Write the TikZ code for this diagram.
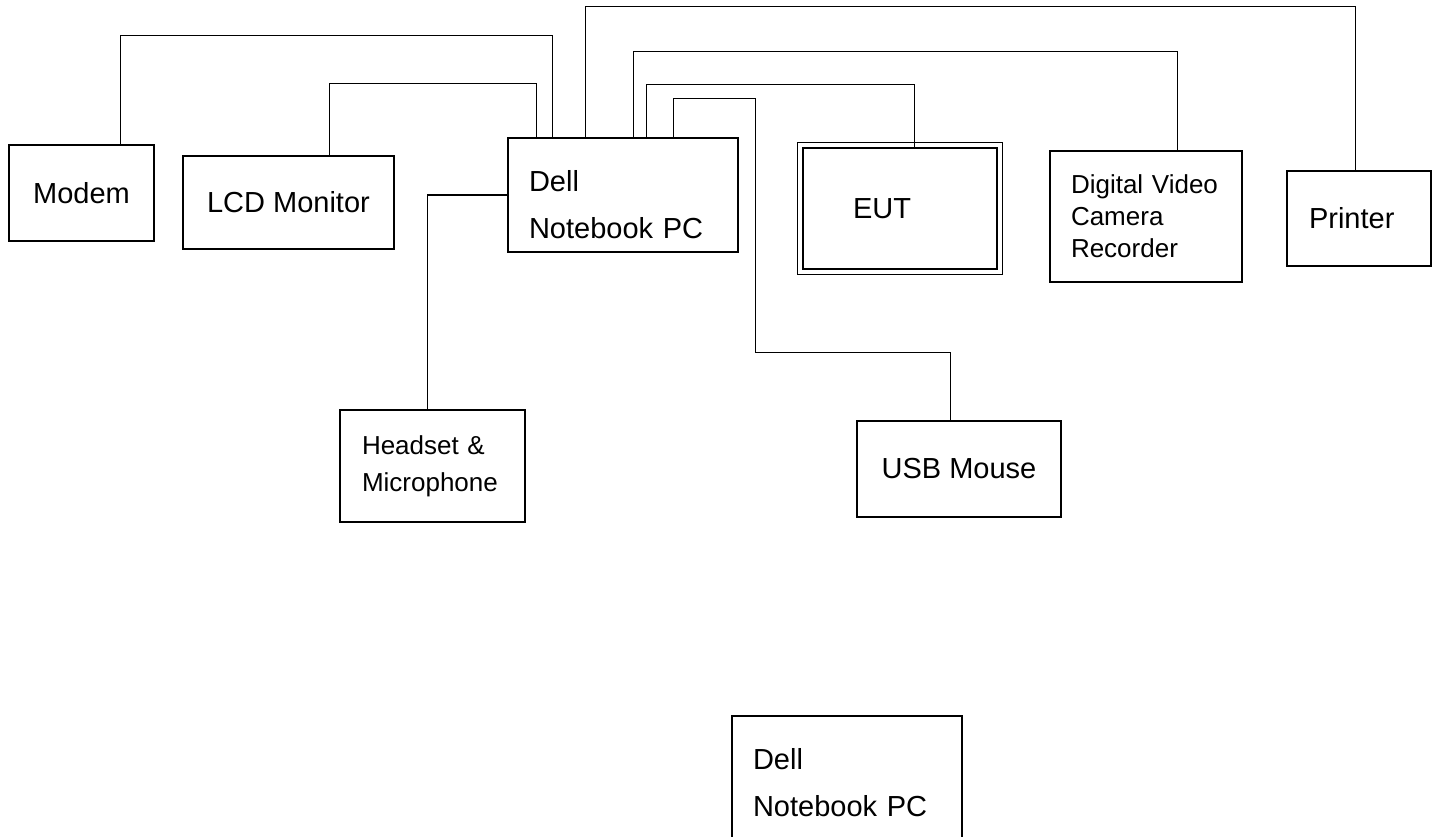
\documentclass[tikz,border=0pt]{standalone}
\usepackage{fontspec}
\setmainfont{Liberation Sans}
\usetikzlibrary{calc}

\tikzset{
  unit/.style={draw, line width=1.4pt, inner ysep=0pt, align=left,
    font=\fontsize{29}{47}\selectfont},
  smalltext/.style={font=\fontsize{26}{#1}\selectfont},
  cable/.style={line width=1.5pt},
}

\begin{document}
\begin{tikzpicture}[x=1pt,y=-1pt]
  \useasboundingbox (0,0) rectangle (1438,836);
  \clip (0,0) rectangle (1438,836);

  \node[unit, align=center, minimum width=145pt, minimum height=96pt] (modem) at (81.5,193) {Modem};
  \node[unit, align=center, minimum width=211pt, minimum height=93pt] (lcd) at (288.5,202.5) {LCD Monitor};
  \node[unit, inner xsep=21pt, text width=188pt, minimum height=114pt] (pc) at (623,195) {\rule{0pt}{41pt}Dell\\Notebook PC};
  \node[unit, line width=2.6pt, inner xsep=50pt, text width=94pt, minimum height=121pt] (eut) at (900,208.5) {EUT};
  \draw[line width=1.5pt] ($(eut.north west)+(-4,-4)$) rectangle ($(eut.south east)+(4,4)$);
  \node[unit, smalltext=32, inner xsep=21pt, text width=150pt, minimum height=131pt] (camera) at (1146,216.5) {Digital Video\\Camera\\Recorder};
  \node[unit, inner xsep=22pt, text width=100pt, minimum height=95pt] (printer) at (1359,218.5) {Printer};
  \node[unit, smalltext=37, inner xsep=22pt, text width=141pt, minimum height=112pt] (headset) at (432.5,466) {Headset \&\\Microphone};
  \node[unit, align=center, minimum width=204pt, minimum height=96pt] (mouse) at (959,469) {USB Mouse};
  \node[unit, inner xsep=21pt, text width=188pt, minimum height=130pt] (pc2) at (847,781) {\rule{0pt}{24pt}Dell\\Notebook PC};

  \draw[cable] ([xshift=112pt]modem.north west) -- ++(0,-109) -| ([xshift=45pt]pc.north west);
  \draw[cable] ([xshift=147pt]lcd.north west) -- ++(0,-72) -| ([xshift=29pt]pc.north west);
  \draw[cable] ([xshift=78pt]pc.north west) -- ++(0,-131) -| ([xshift=69pt]printer.north west);
  \draw[cable] ([xshift=126pt]pc.north west) -- ++(0,-86) -| ([xshift=128pt]camera.north west);
  \draw[cable] ([xshift=139pt]pc.north west) -- ++(0,-53) -| ([xshift=113pt]eut.north west);
  \draw[cable] ([xshift=166pt]pc.north west) -- ++(0,-39) -- ++(82,0) -- ++(0,254) -| ([xshift=94pt]mouse.north west);
  \draw[cable] (pc.west) -| ([xshift=88pt]headset.north west);
\end{tikzpicture}
\end{document}
